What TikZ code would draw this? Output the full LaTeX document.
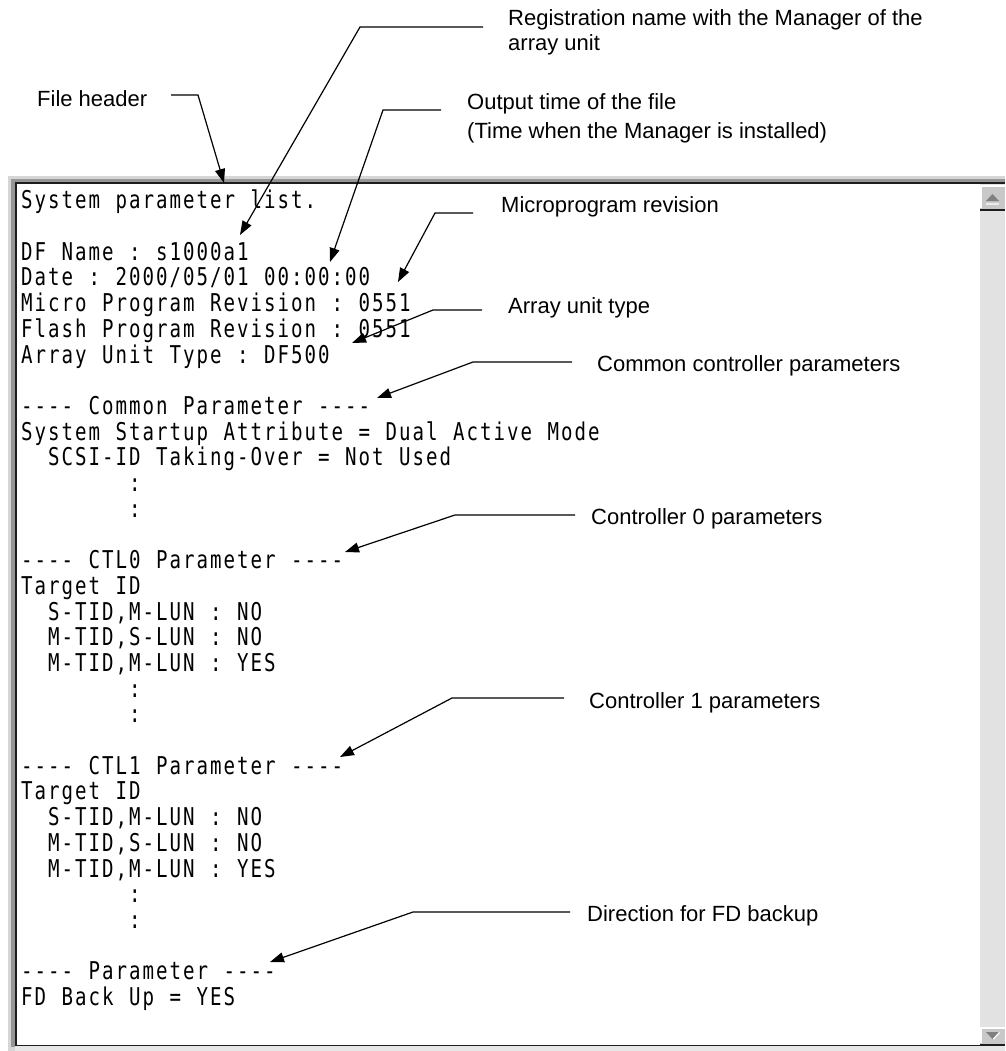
\documentclass[tikz,border=0pt]{standalone}
\usepackage{fontspec}
\setmainfont{Liberation Sans}
\newfontfamily\listfont[FakeStretch=0.78]{DejaVu Sans Mono}
\usetikzlibrary{arrows.meta}

\definecolor{frameLight}{RGB}{214,214,214}
\definecolor{frameMid}{RGB}{150,150,150}
\definecolor{frameDark}{RGB}{30,30,30}
\definecolor{btnFace}{RGB}{200,200,200}
\definecolor{btnShade}{RGB}{128,128,128}
\definecolor{trackGray}{RGB}{226,226,226}

% fixed-pitch listing: every character sits in a box of equal width
\newlength\monopitch
\setlength\monopitch{13.5pt}
\ExplSyntaxOn
\NewDocumentCommand \monoline { m }
  {
    \str_map_inline:nn { #1 }
      { \makebox[\monopitch][c]{##1} }
  }
\ExplSyntaxOff

\tikzset{
  listline/.style={anchor=base west, inner sep=0pt,
    font=\listfont\fontsize{24.5}{26}\selectfont},
  note/.style={anchor=base west, inner sep=0pt, align=left,
    font=\fontsize{22}{25}\selectfont},
  leader/.style={draw=black, line width=1.2pt,
    -{Triangle[length=14pt,width=10pt]}},
}

\begin{document}
\begin{tikzpicture}[x=1pt,y=-1pt]
\useasboundingbox (0,0) rectangle (1005,1051);
\fill[white] (0,0) rectangle (1005,1051);

% sunken window frame
\fill[frameLight] (8,176) rectangle (1005,1051);
\fill[frameMid] (11,179) rectangle (1005,1047);
\fill[frameDark] (15,182) rectangle (1005,1046);
\fill[white] (17,184) rectangle (980,1045);
\fill[frameLight!60!white] (15,1046) rectangle (1005,1051);

% vertical scroll bar
\fill[trackGray] (980,184) rectangle (1005,1045);
\fill[btnFace] (980,185) rectangle (1005,209);
\draw[white, line width=1.5pt] (981,208) -- (981,186) -- (1005,186);
\fill[frameDark] (980,209) rectangle (1005,211);
\fill[btnShade] (986,201) -- (999,201) -- (992.5,194) -- cycle;
\fill[white!85!gray] (986,203) rectangle (999,205);
\fill[btnFace] (980,1027) rectangle (1005,1044);
\draw[white, line width=1.5pt] (981,1043) -- (981,1028) -- (1005,1028);
\fill[frameDark] (980,1044) rectangle (1005,1046);
\fill[btnShade] (986,1032) -- (999,1032) -- (992.5,1039) -- cycle;
\draw[white, line width=1.2pt] (993.5,1039) -- (999.5,1032.5);

% listing text
\node[listline] (l0)  at (20,208.8)  {\monoline{System parameter list.}};
\node[listline] (l2)  at (20,260.2)  {\monoline{DF Name : s1000a1}};
\node[listline] (l3)  at (20,285.9)  {\monoline{Date : 2000/05/01 00:00:00}};
\node[listline] (l4)  at (20,311.6)  {\monoline{Micro Program Revision : 0551}};
\node[listline] (l5)  at (20,337.3)  {\monoline{Flash Program Revision : 0551}};
\node[listline] (l6)  at (20,363.0)  {\monoline{Array Unit Type : DF500}};
\node[listline] (l8)  at (20,414.4)  {\monoline{---- Common Parameter ----}};
\node[listline] (l9)  at (20,440.1)  {\monoline{System Startup Attribute = Dual Active Mode}};
\node[listline] (l10) at (47,465.8)  {\monoline{SCSI-ID Taking-Over = Not Used}};
\node[listline] (l11) at (128,491.5) {\monoline{:}};
\node[listline] (l12) at (128,517.2) {\monoline{:}};
\node[listline] (l14) at (20,568.6)  {\monoline{---- CTL0 Parameter ----}};
\node[listline] (l15) at (20,594.3)  {\monoline{Target ID}};
\node[listline] (l16) at (47,620.0)  {\monoline{S-TID,M-LUN : NO}};
\node[listline] (l17) at (47,645.7)  {\monoline{M-TID,S-LUN : NO}};
\node[listline] (l18) at (47,671.4)  {\monoline{M-TID,M-LUN : YES}};
\node[listline] (l19) at (128,697.1) {\monoline{:}};
\node[listline] (l20) at (128,722.8) {\monoline{:}};
\node[listline] (l22) at (20,774.2)  {\monoline{---- CTL1 Parameter ----}};
\node[listline] (l23) at (20,799.9)  {\monoline{Target ID}};
\node[listline] (l24) at (47,825.6)  {\monoline{S-TID,M-LUN : NO}};
\node[listline] (l25) at (47,851.3)  {\monoline{M-TID,S-LUN : NO}};
\node[listline] (l26) at (47,877.0)  {\monoline{M-TID,M-LUN : YES}};
\node[listline] (l27) at (128,902.7) {\monoline{:}};
\node[listline] (l28) at (128,928.4) {\monoline{:}};
\node[listline] (l30) at (20,979.8)  {\monoline{---- Parameter ----}};
\node[listline] (l31) at (20,1005.5) {\monoline{FD Back Up = YES}};

% callout labels (two-line labels are placed by their last baseline)
\node[note] (reg) at (508,51) {Registration name with the Manager of the\\array unit};
\node[note] (hdr) at (37,107) {File header};
\node[note, font=\fontsize{22}{28.5}\selectfont] (otime) at (467,138.5)
  {Output time of the file\\(Time when the Manager is installed)};
\node[note] (micro) at (501,212) {Microprogram revision};
\node[note] (atype) at (508,313) {Array unit type};
\node[note] (common) at (597,371) {Common controller parameters};
\node[note] (ctl0) at (591,524) {Controller 0 parameters};
\node[note] (ctl1) at (589,708) {Controller 1 parameters};
\node[note] (fdb) at (587,921) {Direction for FD backup};

% leader line end, bend and tip points
\coordinate (hdrE) at (171,95);   \coordinate (hdrB) at (198,95);   \coordinate (hdrT) at (224,183);
\coordinate (regE) at (483,27);   \coordinate (regB) at (360,27);   \coordinate (regT) at (240,235);
\coordinate (otE) at (441,110);   \coordinate (otB) at (383,110);   \coordinate (otT) at (330,262);
\coordinate (miE) at (473,213);   \coordinate (miB) at (435,213);   \coordinate (miT) at (398,282);
\coordinate (atE) at (482,310);   \coordinate (atB) at (433,310);   \coordinate (atT) at (352,343);
\coordinate (cmE) at (572,362);   \coordinate (cmB) at (473,362);   \coordinate (cmT) at (377,398);
\coordinate (c0E) at (575,515);   \coordinate (c0B) at (455,515);   \coordinate (c0T) at (345,552);
\coordinate (c1E) at (564,698);   \coordinate (c1B) at (452,698);   \coordinate (c1T) at (340,757);
\coordinate (fdE) at (570,912);   \coordinate (fdB) at (413,912);   \coordinate (fdT) at (270,962);

\draw[leader] (hdrE) -- (hdrB) -- (hdrT);
\draw[leader] (regE) -- (regB) -- (regT);
\draw[leader] (otE) -- (otB) -- (otT);
\draw[leader] (miE) -- (miB) -- (miT);
\draw[leader] (atE) -- (atB) -- (atT);
\draw[leader] (cmE) -- (cmB) -- (cmT);
\draw[leader] (c0E) -- (c0B) -- (c0T);
\draw[leader] (c1E) -- (c1B) -- (c1T);
\draw[leader] (fdE) -- (fdB) -- (fdT);
\end{tikzpicture}
\end{document}
